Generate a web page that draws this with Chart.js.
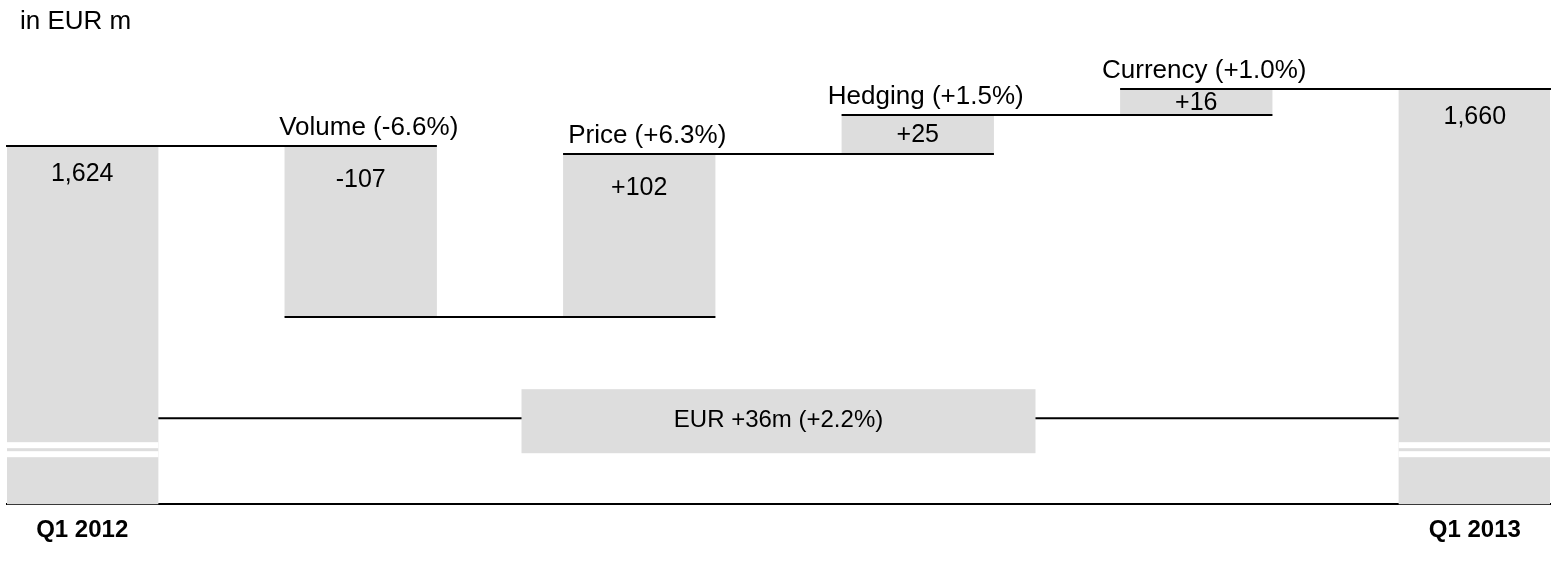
<!DOCTYPE html>
<html>
<head>
<meta charset="utf-8">
<title>Revenue bridge Q1 2012 - Q1 2013</title>
<script src="https://cdn.jsdelivr.net/npm/chart.js@4/dist/chart.umd.min.js"></script>
<style>
  html, body { margin: 0; padding: 0; background: #fff; }
  #chart { display: block; }
</style>
</head>
<body>
<canvas id="chart" width="1555" height="572"></canvas>
<script>
// values in EUR m
const periods = ["Q1 2012", "Q1 2013"];
const drivers = ["Volume", "Price", "Hedging", "Currency"];
const startValue = 1624;
const endValue = 1660;
const changes = [-107, 102, 25, 16];
const changePct = [-6.6, 6.3, 1.5, 1.0];
const unitLabel = "in EUR m";

// the value axis is cut off below (see break marks on the total bars)
const yMin = 1400;
const yMax = 1660;

const FONT = '"Liberation Sans", Arial, sans-serif';
const BAR_GREY = "#dddddd";
const INK = "#000000";

const steps = [periods[0], ...drivers, periods[1]];

// running level after each step
const levels = [startValue];
changes.forEach((c) => levels.push(levels[levels.length - 1] + c));

const bars = steps.map((_, i) => {
  if (i === 0) return { x: i, y: [0, startValue] };
  if (i === steps.length - 1) return { x: i, y: [0, endValue] };
  const from = levels[i - 1];
  const to = levels[i];
  return { x: i, y: [Math.min(from, to), Math.max(from, to)] };
});

function signed(v) {
  return (v > 0 ? "+" : "") + v.toLocaleString("en-US");
}

function pctText(v) {
  return (v > 0 ? "+" : "") + v.toFixed(1) + "%";
}

const bridgePlugin = {
  id: "bridge",
  afterDatasetsDraw(chart) {
    const { ctx, chartArea, scales } = chart;
    const y = scales.y;
    const els = chart.getDatasetMeta(0).data;
    const left = (el) => el.x - el.width / 2;
    const right = (el) => el.x + el.width / 2;
    const last = els.length - 1;

    ctx.save();

    // axis break on the two total bars
    ctx.fillStyle = "#ffffff";
    [els[0], els[last]].forEach((el) => {
      ctx.fillRect(left(el), chartArea.bottom - 62, el.width, 6);
      ctx.fillRect(left(el), chartArea.bottom - 53, el.width, 6);
    });

    // connectors: from a bar's left edge to the next bar's right edge
    ctx.strokeStyle = INK;
    ctx.lineWidth = 2;
    levels.forEach((lv, i) => {
      const py = Math.round(y.getPixelForValue(lv));
      ctx.beginPath();
      ctx.moveTo(left(els[i]), py);
      ctx.lineTo(right(els[i + 1]), py);
      ctx.stroke();
    });

    // value labels
    ctx.fillStyle = INK;
    ctx.font = `25px ${FONT}`;
    ctx.textAlign = "center";
    ctx.textBaseline = "middle";
    els.forEach((el, i) => {
      const top = Math.min(el.y, el.base);
      const bottom = Math.max(el.y, el.base);
      let text;
      let ty;
      if (i === 0 || i === last) {
        text = (i === 0 ? startValue : endValue).toLocaleString("en-US");
        ty = top + 28;
      } else {
        text = signed(changes[i - 1]);
        ty = Math.min((top + bottom) / 2 + 1, top + 34);
      }
      ctx.fillText(text, el.x, ty);
    });

    // driver labels above the bars
    ctx.font = `26px ${FONT}`;
    ctx.textBaseline = "alphabetic";
    drivers.forEach((name, k) => {
      const el = els[k + 1];
      const top = Math.min(el.y, el.base);
      ctx.fillText(`${name} (${pctText(changePct[k])})`, el.x + 8, top - 11);
    });

    // overall change bracket
    const diff = endValue - startValue;
    const pct = ((diff / startValue) * 100).toFixed(1);
    const by = chartArea.bottom - 86;
    const x0 = right(els[0]);
    const x1 = left(els[last]);
    const mid = (x0 + x1) / 2;
    ctx.beginPath();
    ctx.moveTo(x0, by);
    ctx.lineTo(x1, by);
    ctx.stroke();
    ctx.fillStyle = BAR_GREY;
    ctx.fillRect(mid - 257, by - 29, 514, 64);
    ctx.fillStyle = INK;
    ctx.font = `24px ${FONT}`;
    ctx.textBaseline = "middle";
    ctx.fillText(`EUR ${signed(diff)}m (+${pct}%)`, mid, by + 2);

    // unit
    ctx.font = `26px ${FONT}`;
    ctx.textAlign = "left";
    ctx.fillText(unitLabel, 20, 22);

    ctx.restore();
  },
};

new Chart(document.getElementById("chart"), {
  type: "bar",
  data: {
    datasets: [
      {
        data: bars,
        backgroundColor: BAR_GREY,
        borderWidth: 0,
        barPercentage: 1,
        categoryPercentage: 0.547,
        clip: 0,
      },
    ],
  },
  options: {
    responsive: false,
    animation: false,
    layout: { padding: { top: 89, left: 7, right: 5, bottom: 15 } },
    plugins: {
      legend: { display: false },
      tooltip: { enabled: false },
    },
    scales: {
      x: {
        type: "linear",
        offset: false,
        min: -0.27,
        max: steps.length - 1 + 0.27,
        afterBuildTicks(scale) {
          scale.ticks = steps.map((_, i) => ({ value: i }));
        },
        grid: { display: false, drawTicks: false },
        border: { display: true, color: INK, width: 2 },
        ticks: {
          autoSkip: false,
          maxRotation: 0,
          padding: 12,
          color: INK,
          font: { family: FONT, size: 24, weight: "bold" },
          callback: (v) => (v === 0 || v === steps.length - 1 ? steps[v] : ""),
        },
      },
      y: {
        display: false,
        min: yMin,
        max: yMax,
      },
    },
  },
  plugins: [bridgePlugin],
});
</script>
</body>
</html>
